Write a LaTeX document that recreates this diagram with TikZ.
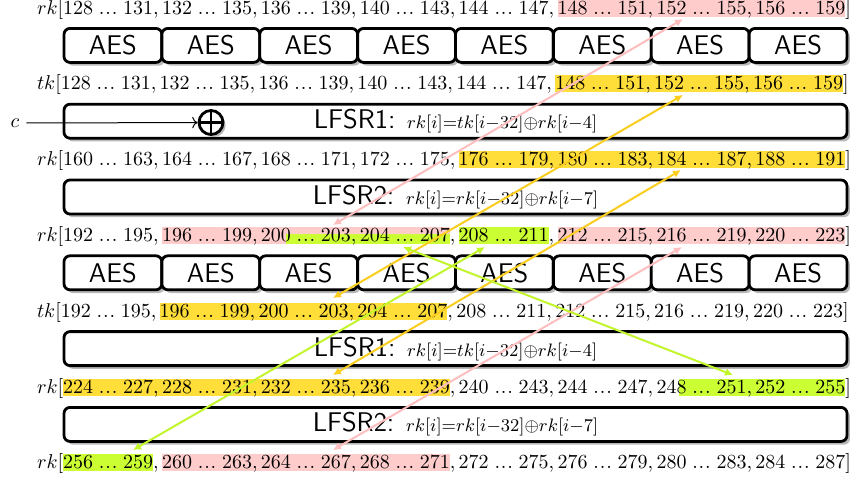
\documentclass[tikz,border=0pt]{standalone}
\usetikzlibrary{shadows,arrows.meta}
\definecolor{hlpink}{RGB}{255,204,204}
\definecolor{hlyellow}{RGB}{255,222,58}
\definecolor{hlgreen}{RGB}{204,255,51}
\definecolor{arpink}{RGB}{255,190,190}
\definecolor{aryellow}{RGB}{250,205,30}
\definecolor{argreen}{RGB}{195,245,45}
\pgfdeclarelayer{background}
\pgfsetlayers{background,main}
\tikzset{
  box/.style={draw, line width=1.4pt, rounded corners=3pt, fill=white,
    drop shadow={shadow xshift=1.5pt, shadow yshift=-1.6pt, fill=black!28, opacity=1}},
  aesbox/.style={box, minimum width=48.94pt, minimum height=17pt, inner sep=0, font=\fontsize{13.5}{16}\sffamily},
  lfsrbox/.style={box, minimum width=391.5pt, minimum height=17pt, inner sep=0, font=\fontsize{13.5}{16}\sffamily},
  lbl/.style={inner sep=0, outer sep=0, anchor=base west},
  xorsym/.style={circle, draw, line width=1.4pt, fill=white, minimum size=12pt, inner sep=0,
    drop shadow={shadow xshift=1.3pt, shadow yshift=-1.3pt, fill=black!28, opacity=1},
    path picture={\draw[line width=1.4pt] (path picture bounding box.north) -- (path picture bounding box.south)
      (path picture bounding box.west) -- (path picture bounding box.east);}},
  link/.style={{Latex[length=4pt,width=4pt]}-{Latex[length=4pt,width=4pt]}, line width=1pt},
}
\newcommand\krdots{.\kern0.45pt.\kern0.45pt.}
\newcommand\keyrow[4]{%
  \node[lbl] (#1p) at (37,#4) {$#2[$};
  \foreach \g in {0,...,7}{%
    \pgfmathtruncatemacro\kra{#3+4*\g}%
    \pgfmathtruncatemacro\krb{\kra+3}%
    \ifnum\g=0 \def\krprev{#1p}\else\pgfmathtruncatemacro\krpg{\g-1}\edef\krprev{#1c\krpg}\fi
    \node[lbl] (#1g\g) at (\krprev.base east) {\kra\hspace{2.88pt}\krdots\hspace{2.88pt}\krb};
    \ifnum\g<7 \node[lbl] (#1c\g) at (#1g\g.base east) {$,\,$};\fi
  }
  \node[lbl] (#1e) at (#1g7.base east) {$]$};
}
\newcommand\hlbar[4]{\fill[#1] ([yshift=-1.3pt]#2g#3.base west) rectangle ([yshift=7.2pt]#2g#4.base east);}
\begin{document}
\begin{tikzpicture}[x=0.5pt,y=-0.5pt]
\useasboundingbox (0,0) rectangle (850,479);
% key rows
\keyrow{Ra}{rk}{128}{14}
\keyrow{Rb}{tk}{128}{89.8}
\keyrow{Rc}{rk}{160}{165.6}
\keyrow{Rd}{rk}{192}{241.4}
\keyrow{Re}{tk}{192}{317.2}
\keyrow{Rf}{rk}{224}{393}
\keyrow{Rg}{rk}{256}{468.8}
% highlights
\begin{pgfonlayer}{background}
\hlbar{hlpink}{Ra}{5}{7}
\hlbar{hlyellow}{Rb}{5}{7}
\hlbar{hlyellow}{Rc}{4}{7}
\hlbar{hlpink}{Rd}{1}{3}
\fill[hlgreen] ([xshift=12.5pt,yshift=-1.3pt]Rdg2.base west) rectangle ([yshift=3.5pt]Rdg3.base east);
\hlbar{hlgreen}{Rd}{4}{4}
\hlbar{hlpink}{Rd}{5}{7}
\hlbar{hlyellow}{Re}{1}{3}
\hlbar{hlyellow}{Rf}{0}{3}
\fill[hlgreen] ([xshift=11.3pt,yshift=-1.3pt]Rfg6.base west) rectangle ([yshift=7.2pt]Rfg7.base east);
\hlbar{hlgreen}{Rg}{0}{0}
\hlbar{hlpink}{Rg}{1}{3}
\end{pgfonlayer}
% AES boxes
\foreach \k in {0,...,7}{
  \node[aesbox] (aesA\k) at ({64+97.875*(\k+0.5)},45.4) {AES};
}
\foreach \k in {0,...,7}{
  \node[aesbox] (aesB\k) at ({64+97.875*(\k+0.5)},272.8) {AES};
}
% LFSR boxes
\node[lfsrbox] (lfsrA) at (455.5,121.2) {LFSR1: $\scriptstyle rk[i]=tk[i-32]\oplus rk[i-4]$};
\node[lfsrbox] (lfsrB) at (455.5,197) {LFSR2: $\scriptstyle rk[i]=rk[i-32]\oplus rk[i-7]$};
\node[lfsrbox] (lfsrC) at (455.5,348.6) {LFSR1: $\scriptstyle rk[i]=tk[i-32]\oplus rk[i-4]$};
\node[lfsrbox] (lfsrD) at (455.5,424.4) {LFSR2: $\scriptstyle rk[i]=rk[i-32]\oplus rk[i-7]$};
% constant input
\node (cin) at (15,123) {$c$};
\node[xorsym] (xor) at (211,122.5) {};
\draw[->, line width=0.5pt] (cin) -- (xor);
% links
\coordinate (pA1) at (333,225); \coordinate (pA2) at (683,19);
\coordinate (yA1) at (333,298); \coordinate (yA2) at (683,95);
\coordinate (yB1) at (333,375); \coordinate (yB2) at (681,170);
\coordinate (pB1) at (333,450); \coordinate (pB2) at (682,247);
\coordinate (gA1) at (403,247); \coordinate (gA2) at (733,375);
\coordinate (gB1) at (133,450); \coordinate (gB2) at (485,247);
\draw[link, arpink] (pA1) -- (pA2);
\draw[link, arpink] (pB1) -- (pB2);
\draw[link, aryellow] (yA1) -- (yA2);
\draw[link, aryellow] (yB1) -- (yB2);
\draw[link, argreen] (gA1) -- (gA2);
\draw[link, argreen] (gB1) -- (gB2);
\end{tikzpicture}
\end{document}
